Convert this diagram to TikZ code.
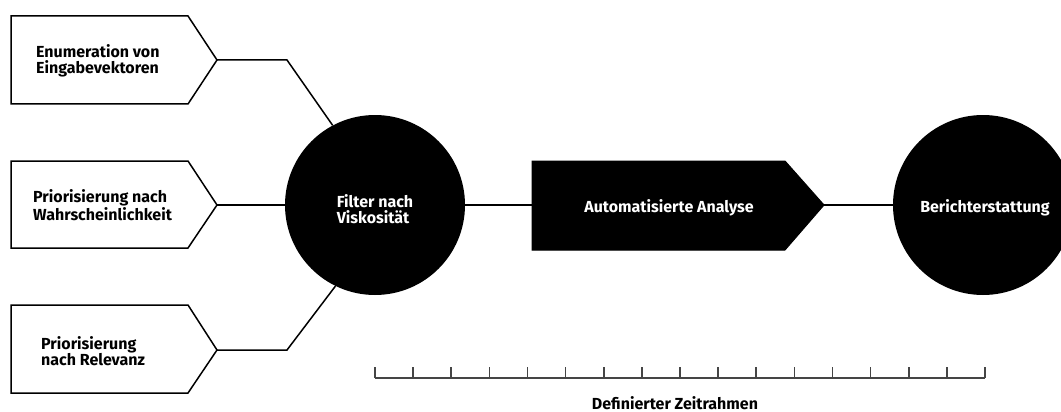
\documentclass[tikz,border=0pt]{standalone}
\usepackage{fontspec}
\setmainfont{Fira Sans}
\begin{document}
\begin{tikzpicture}[x=1pt,y=-1pt,
  box/.style={draw=black, line width=1.5pt, fill=white, line join=miter},
  conn/.style={draw=black, line width=1.5pt},
  lbl/.style={font=\bfseries\fontsize{16}{15.5}\selectfont, align=left, inner sep=0pt, text=black},
  wlbl/.style={lbl, text=white},
  dot/.style={circle, fill=black, draw=none, minimum size=180pt, inner sep=0pt},
  tl/.style={draw=black!73, line width=1.6pt}
]
\useasboundingbox (0,0) rectangle (1061,412);
% input boxes
\coordinate (t1) at (217,60);
\coordinate (t2) at (217,205);
\coordinate (t3) at (217,350);
\draw[box] (11,16) -- (188,16) -- (t1) -- (188,104) -- (11,104) -- cycle;
\draw[box] (11,161) -- (188,161) -- (t2) -- (188,248) -- (11,248) -- cycle;
\draw[box] (11,305) -- (188,305) -- (t3) -- (188,393) -- (11,393) -- cycle;
\node[lbl, anchor=west] (l1) at (36,61) {Enumeration von\\Eingabevektoren};
\node[lbl, anchor=west] (l2) at (33,205) {Priorisierung nach\\Wahrscheinlichkeit};
\node[lbl, anchor=west] (l3) at (41,351) {Priorisierung\\nach Relevanz};
% circles
\node[dot] (c1) at (375,205) {};
\node[dot] (c2) at (983,205) {};
\node[wlbl] (c1t) at (375,209) {Filter nach\\Viskosität};
\node[wlbl, anchor=base] (c2t) at (985,212) {Berichterstattung};
% analysis arrow
\coordinate (a4) at (824,205);
\draw[fill=black, draw=black, line width=1pt] (532,161) -- (785,161) -- (a4) -- (785,250) -- (532,250) -- cycle;
\coordinate (a0) at (532,205);
\node[wlbl, anchor=base] (at) at (669,212) {Automatisierte Analyse};
% connectors
\coordinate (k1) at (287,60);
\coordinate (k3) at (287,350);
\draw[conn] (t1) -- (k1) -- (c1.118);
\draw[conn] (t2) -- (c1.west);
\draw[conn] (t3) -- (k3) -- (c1.244);
\draw[conn] (c1.east) -- (a0);
\draw[conn] (a4) -- (c2.west);
% timeline
\coordinate (s0) at (375,378);
\coordinate (s1) at (985,378);
\draw[tl] (s0) -- (s1);
\foreach \i in {0,...,16} {
  \draw[tl] (375+38.125*\i,378) -- ++(0,-11);
}
\node[lbl, anchor=base] (tt) at (675,409.5) {Definierter Zeitrahmen};
\end{tikzpicture}
\end{document}
